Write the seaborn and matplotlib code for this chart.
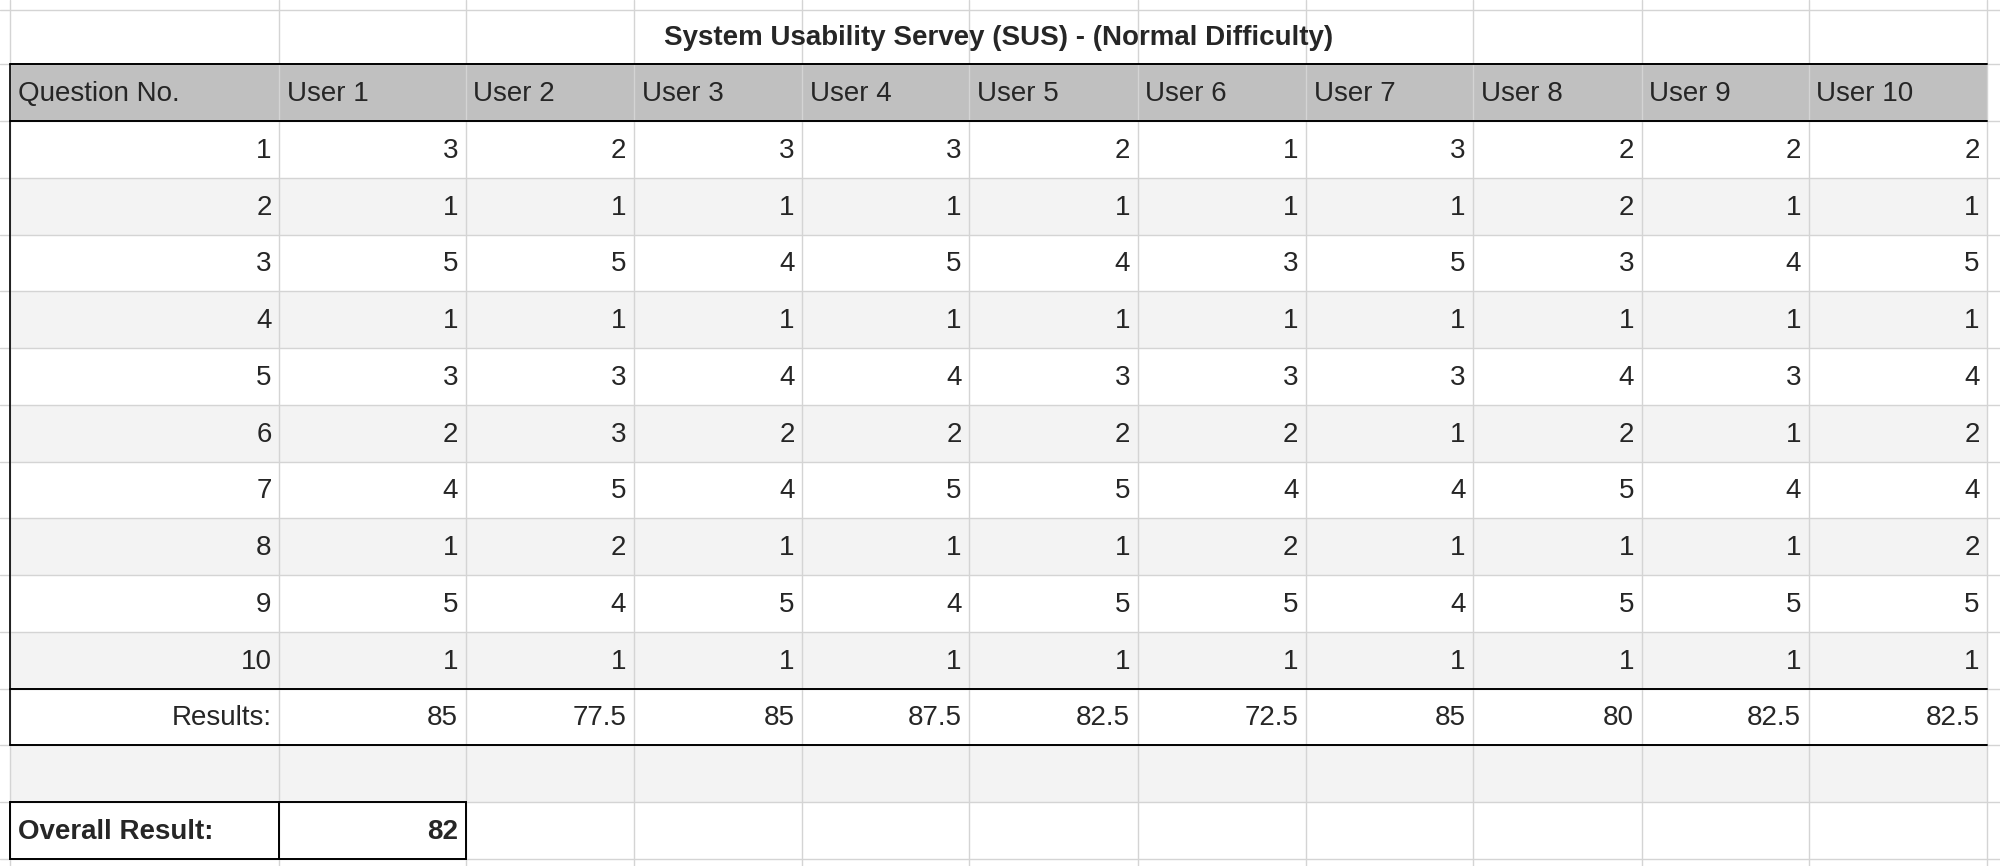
import matplotlib
matplotlib.use("Agg")
import matplotlib.pyplot as plt
import seaborn as sns
from matplotlib.patches import Rectangle

sns.set_theme(style="white")
plt.rcParams['font.family'] = ['Liberation Sans', 'DejaVu Sans']

title = "System Usability Servey (SUS) - (Normal Difficulty)"
users = ["User 1", "User 2", "User 3", "User 4", "User 5",
         "User 6", "User 7", "User 8", "User 9", "User 10"]
questions = [1, 2, 3, 4, 5, 6, 7, 8, 9, 10]
scores = [
    [3, 2, 3, 3, 2, 1, 3, 2, 2, 2],
    [1, 1, 1, 1, 1, 1, 1, 2, 1, 1],
    [5, 5, 4, 5, 4, 3, 5, 3, 4, 5],
    [1, 1, 1, 1, 1, 1, 1, 1, 1, 1],
    [3, 3, 4, 4, 3, 3, 3, 4, 3, 4],
    [2, 3, 2, 2, 2, 2, 1, 2, 1, 2],
    [4, 5, 4, 5, 5, 4, 4, 5, 4, 4],
    [1, 2, 1, 1, 1, 2, 1, 1, 1, 2],
    [5, 4, 5, 4, 5, 5, 4, 5, 5, 5],
    [1, 1, 1, 1, 1, 1, 1, 1, 1, 1],
]
results = ["85", "77.5", "85", "87.5", "82.5", "72.5", "85", "80", "82.5", "82.5"]
overall = "82"

# layout (in reference pixel units, 1568 x 679)
W, H = 1568, 679
cols = [8, 219, 365, 497, 629, 760, 892, 1024, 1155, 1287, 1418, 1558]
rows = [8, 50, 95] + [95 + 44.5 * i for i in range(1, 14)]
grid_c = "#d4d4d4"
fs = 20

fig = plt.figure(figsize=(20, 8.66), dpi=100)
ax = fig.add_axes([0, 0, 1, 1])
ax.set_xlim(0, W)
ax.set_ylim(H, 0)
ax.axis("off")

def cell(x0, x1, y0, y1, color):
    ax.add_patch(Rectangle((x0, y0), x1 - x0, y1 - y0, color=color, lw=0, zorder=1))

# header fill
cell(cols[0], cols[-1], rows[1], rows[2], "#c0c0c0")
# banded data rows
for i in range(len(questions)):
    if i % 2 == 1:
        cell(cols[0], cols[-1], rows[2 + i], rows[3 + i], "#f3f3f3")
# blank row after results
cell(cols[0], cols[-1], rows[13], rows[14], "#f3f3f3")

# sheet grid
for x in cols:
    ax.plot([x, x], [0, H], color=grid_c, lw=1, zorder=2)
for y in rows:
    ax.plot([0, W], [y, y], color=grid_c, lw=1, zorder=2)
# title row is merged: cover inner grid lines
cell(cols[0] + 1, cols[-1] - 1, rows[0] + 1, rows[1] - 1, "white")

# black borders
for y in [rows[1], rows[2], rows[12], rows[13]]:
    ax.plot([cols[0], cols[-1]], [y, y], color="black", lw=1.4, zorder=3)
ax.plot([cols[0], cols[0]], [rows[1], rows[13]], color="black", lw=1.2, zorder=3)
ax.add_patch(Rectangle((cols[0], rows[14]), cols[2] - cols[0], rows[15] - rows[14],
                       fill=False, ec="black", lw=1.4, zorder=3))
ax.plot([cols[1], cols[1]], [rows[14], rows[15]], color="black", lw=1.4, zorder=3)

pad = 6
ax.text((cols[0] + cols[-1]) / 2, (rows[0] + rows[1]) / 2 + 1, title,
        ha="center", va="center", fontsize=fs, fontweight="bold", zorder=4)

def mid(i):
    return (rows[i] + rows[i + 1]) / 2 + 1

ax.text(cols[0] + pad, mid(1), "Question No.", ha="left", va="center", fontsize=fs, zorder=4)
for j, u in enumerate(users):
    ax.text(cols[j + 1] + pad, mid(1), u, ha="left", va="center", fontsize=fs, zorder=4)

for i, q in enumerate(questions):
    ax.text(cols[1] - pad, mid(2 + i), str(q), ha="right", va="center", fontsize=fs, zorder=4)
    for j, v in enumerate(scores[i]):
        ax.text(cols[j + 2] - pad, mid(2 + i), str(v), ha="right", va="center", fontsize=fs, zorder=4)

ax.text(cols[1] - pad, mid(12), "Results:", ha="right", va="center", fontsize=fs, zorder=4)
for j, r in enumerate(results):
    ax.text(cols[j + 2] - pad, mid(12), r, ha="right", va="center", fontsize=fs, zorder=4)

ax.text(cols[0] + pad, mid(14), "Overall Result:", ha="left", va="center",
        fontsize=fs, fontweight="bold", zorder=4)
ax.text(cols[2] - pad, mid(14), overall, ha="right", va="center",
        fontsize=fs, fontweight="bold", zorder=4)

fig.savefig("out.png", dpi=100, facecolor="white")
